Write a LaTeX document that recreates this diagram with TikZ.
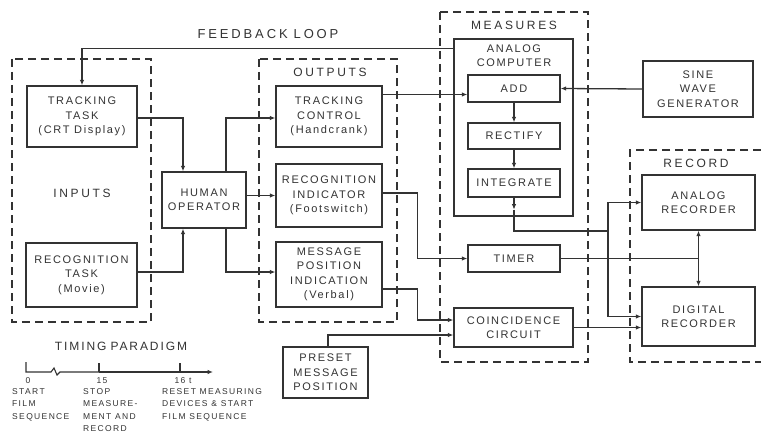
\documentclass[tikz,border=0pt]{standalone}
\usepackage{fontspec}
\usetikzlibrary{arrows.meta,calc}
\newfontfamily\lblfont[LetterSpace=15]{Liberation Sans}
\newfontfamily\grpfont[LetterSpace=22]{Liberation Sans}
\newfontfamily\tmfont[LetterSpace=16]{Liberation Sans}
\definecolor{ink}{gray}{0.2}
\tikzset{
  box/.style={draw=ink, line width=1.3pt, inner sep=0pt, align=center, text=ink,
    font=\lblfont\fontsize{11}{14.5}\selectfont},
  grp/.style={draw=ink, line width=1.1pt, dash pattern=on 8pt off 5pt},
  grplabel/.style={text=ink, font=\grpfont\fontsize{12}{14}\selectfont, inner sep=0pt},
  wire/.style={draw=ink, line width=1.3pt},
  arr/.style={wire, -{Latex[length=5.5pt,width=4.5pt]}},
  tmtext/.style={text=ink, font=\tmfont\fontsize{8.5}{12.6}\selectfont, align=left, inner sep=0pt}
}
\begin{document}
\begin{tikzpicture}[x=1pt,y=-1pt]
\useasboundingbox[fill=white] (0,0) rectangle (761,436);

% group frames
\draw[grp] (12,59) rectangle (151,322);
\draw[grp] (259,59) rectangle (397,322);
\draw[grp] (440,12) rectangle (588,362);
\draw[grp] (761,150) -- (630,150) -- (630,362) -- (761,362);

\node[grplabel] (lin) at (82,193) {INPUTS};
\node[grplabel] (lout) at (330,72) {OUTPUTS};
\node[grplabel] (lmeas) at (514,25) {MEASURES};
\node[grplabel] (lrec) at (696,163) {RECORD};
\node[grplabel, font=\grpfont\fontsize{13}{14}\selectfont] (lfb) at (268,34) {FEEDBACK\hspace{6pt}LOOP};

% boxes
\node[box, minimum width=110pt, minimum height=61pt] (tt) at (82,116.5) {TRACKING\\TASK\\(CRT Display)};
\node[box, minimum width=111pt, minimum height=64pt] (rt) at (81.5,275) {RECOGNITION\\TASK\\(Movie)};
\node[box, minimum width=84pt, minimum height=56pt] (ho) at (204,200) {HUMAN\\OPERATOR};
\node[box, minimum width=106pt, minimum height=61pt] (tc) at (329,116.5) {TRACKING\\CONTROL\\(Handcrank)};
\node[box, minimum width=106pt, minimum height=63pt] (ri) at (329,195.5) {RECOGNITION\\INDICATOR\\(Footswitch)};
\node[box, minimum width=106pt, minimum height=65pt] (mp) at (329,274.5) {MESSAGE\\POSITION\\INDICATION\\(Verbal)};
\node[box, minimum width=119pt, minimum height=177pt] (ac) at (513.5,127.5) {};
\node[text=ink, font=\lblfont\fontsize{11}{14}\selectfont, align=center] (act) at (514,56) {ANALOG\\COMPUTER};
\node[box, minimum width=92pt, minimum height=27pt] (add) at (514,88.5) {ADD};
\node[box, minimum width=92pt, minimum height=26pt] (rect) at (514,136) {RECTIFY};
\node[box, minimum width=92pt, minimum height=28pt] (int) at (514,183) {INTEGRATE};
\node[box, minimum width=110pt, minimum height=56pt] (sw) at (698,89) {SINE\\WAVE\\GENERATOR};
\node[box, minimum width=92pt, minimum height=27pt] (tm) at (514,258.5) {TIMER};
\node[box, minimum width=119pt, minimum height=39pt] (cc) at (513.5,327.5) {COINCIDENCE\\CIRCUIT};
\node[box, minimum width=85pt, minimum height=51pt] (pm) at (325.5,372.5) {PRESET\\MESSAGE\\POSITION};
\node[box, minimum width=113pt, minimum height=55pt] (ar) at (698.5,202.5) {ANALOG\\RECORDER};
\node[box, minimum width=113pt, minimum height=59pt] (dr) at (698.5,316.5) {DIGITAL\\RECORDER};

% connectors
\draw[arr] ([yshift=-10pt]ac.north west) -| (tt.north);
\draw[arr] ([yshift=-1.5pt]tt.east) -| ([xshift=-21pt]ho.north);
\draw[arr] ([yshift=3pt]rt.east) -| ([xshift=-21pt]ho.south);
\draw[arr] ([xshift=22pt]ho.north) |- ([yshift=-1.5pt]tc.west);
\draw[arr] (ho.east |- ri.west) -- (ri.west);
\draw[arr] ([xshift=22pt]ho.south) |- ([yshift=2.5pt]mp.west);
\draw[arr] ([yshift=22pt]tc.east) -- ([yshift=22pt]tc.east -| add.west);
\draw[arr] (sw.west) -- (add.east);
\draw[arr] (add.south) -- (rect.north);
\draw[arr] (rect.south) -- (int.north);
\coordinate (j1) at (608,231);
\draw[arr] (int.south) -- ([yshift=-12pt]int.south);
\draw[wire] ([yshift=-12pt]int.south) |- (j1);
\draw[arr] (j1) |- (ar.west);
\draw[arr] (j1) |- (dr.west);
\draw[wire] (tm.east) -- (tm.east -| ar.south);
\draw[arr] (tm.east -| ar.south) -- (ar.south);
\draw[arr] (tm.east -| ar.south) -- (dr.north);
\draw[arr] ([yshift=2.5pt]ri.east) -- ++(35,0) |- (tm.west);
\draw[arr] ([yshift=-14.5pt]mp.east) -- ++(35,0) |- ([yshift=7.5pt]cc.west);
\draw[arr] ([xshift=2.5pt]pm.north) |- ([yshift=-7.5pt]cc.west);
\draw[arr] (cc.east) -- (cc.east -| dr.west);

% timing paradigm
\node[grplabel, font=\tmfont\fontsize{12}{14}\selectfont] (tp) at (121,346) {TIMING\hspace{4pt}PARADIGM};
\draw[wire, line width=1.1pt] (26,362) -- (26,372) -- (51,372) -- (54,368) -- (57,375) -- (60,372) -- (99,372);
\draw[arr, line width=1.1pt] (99,372) -- (213,372);
\draw[wire, line width=1.1pt] (99,363) -- (99,372);
\draw[wire, line width=1.1pt] (180,363) -- (180,372);
\node[tmtext] (t0) at (28,381) {0};
\node[tmtext] (t15) at (102,381) {15};
\node[tmtext] (t16) at (183,381) {16 t};
\node[tmtext, anchor=north west] (d0) at (12,388) {START\\FILM\\SEQUENCE};
\node[tmtext, anchor=north west] (d15) at (83,388) {STOP\\MEASURE-\\MENT AND\\RECORD};
\node[tmtext, anchor=north west] (d16) at (162,388) {RESET MEASURING\\DEVICES \& START\\FILM SEQUENCE};
\end{tikzpicture}
\end{document}
